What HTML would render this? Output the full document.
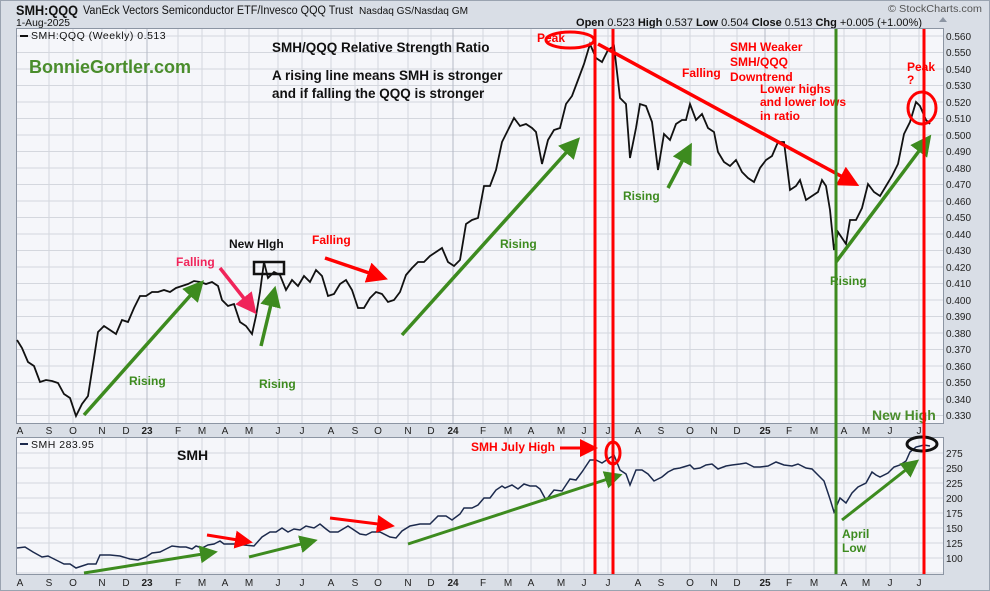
<!DOCTYPE html>
<html><head><meta charset="utf-8"><style>
html,body{margin:0;padding:0;background:#d9dee6;}
svg{display:block;font-family:"Liberation Sans",sans-serif;}
</style></head><body>
<svg width="990" height="591" viewBox="0 0 990 591" xmlns="http://www.w3.org/2000/svg">
<defs>
<marker id="ag" markerWidth="6" markerHeight="6" refX="3" refY="3" orient="auto" markerUnits="strokeWidth"><path d="M0,0 L6,3 L0,6 z" fill="#3d8b1f"/></marker>
<marker id="ar" markerWidth="6" markerHeight="6" refX="3" refY="3" orient="auto" markerUnits="strokeWidth"><path d="M0,0 L6,3 L0,6 z" fill="#f00"/></marker>
<marker id="ap" markerWidth="6" markerHeight="6" refX="3" refY="3" orient="auto" markerUnits="strokeWidth"><path d="M0,0 L6,3 L0,6 z" fill="#f0245a"/></marker>
</defs>
<rect x="0" y="0" width="990" height="591" fill="#d9dee6"/>
<rect x="0.5" y="0.5" width="989" height="590" fill="none" stroke="#9aa3b0"/>
<text x="16" y="15" font-size="14" font-weight="bold" fill="#111" textLength="62" lengthAdjust="spacingAndGlyphs">SMH:QQQ</text>
<text x="83" y="14" font-size="11.5" fill="#111" textLength="270" lengthAdjust="spacingAndGlyphs">VanEck Vectors Semiconductor ETF/Invesco QQQ Trust</text>
<text x="359" y="14" font-size="10" fill="#111" textLength="109" lengthAdjust="spacingAndGlyphs">Nasdaq GS/Nasdaq GM</text>
<text x="16" y="26" font-size="10" fill="#111" textLength="54" lengthAdjust="spacingAndGlyphs">1-Aug-2025</text>
<text x="888" y="12" font-size="10" fill="#555" textLength="94" lengthAdjust="spacingAndGlyphs">© StockCharts.com</text>
<text x="576" y="26" font-size="11" fill="#111" textLength="346" lengthAdjust="spacingAndGlyphs"><tspan font-weight="bold">Open</tspan> 0.523 <tspan font-weight="bold">High</tspan> 0.537 <tspan font-weight="bold">Low</tspan> 0.504 <tspan font-weight="bold">Close</tspan> 0.513 <tspan font-weight="bold">Chg</tspan> +0.005 (+1.00%)</text>
<path d="M939,22l4,-5l4,5z" fill="#8c95a3"/>
<!-- top panel -->
<rect x="16.5" y="28.5" width="927" height="395" fill="#f5f6fa" stroke="#8c95a3"/>
<g stroke="#d4d7de" stroke-width="1">
<path d="M17,36H943M17,52.5H943M17,69H943M17,85.5H943M17,102H943M17,118.5H943M17,135H943M17,151.5H943M17,168H943M17,184.5H943M17,201H943M17,217.5H943M17,234H943M17,250.5H943M17,267H943M17,283.5H943M17,300H943M17,316.5H943M17,333H943M17,349.5H943M17,366H943M17,382.5H943M17,399H943M17,415.5H943"/>
<path d="M49,29V423M73,29V423M102,29V423M126,29V423M178,29V423M202,29V423M225,29V423M249,29V423M278,29V423M302,29V423M331,29V423M355,29V423M378,29V423M408,29V423M431,29V423M483,29V423M508,29V423M531,29V423M561,29V423M584,29V423M608,29V423M638,29V423M661,29V423M690,29V423M714,29V423M737,29V423M789,29V423M814,29V423M844,29V423M866,29V423M890,29V423M919,29V423"/>
</g>
<g stroke="#b5bac5"><path d="M147,29V423M453,29V423M765,29V423"/></g>
<g font-size="10" fill="#222">
<text x="946" y="40">0.560</text><text x="946" y="56">0.550</text><text x="946" y="73">0.540</text><text x="946" y="89">0.530</text><text x="946" y="106">0.520</text><text x="946" y="122">0.510</text><text x="946" y="139">0.500</text><text x="946" y="155">0.490</text><text x="946" y="172">0.480</text><text x="946" y="188">0.470</text><text x="946" y="205">0.460</text><text x="946" y="221">0.450</text><text x="946" y="238">0.440</text><text x="946" y="254">0.430</text><text x="946" y="271">0.420</text><text x="946" y="287">0.410</text><text x="946" y="304">0.400</text><text x="946" y="320">0.390</text><text x="946" y="337">0.380</text><text x="946" y="353">0.370</text><text x="946" y="370">0.360</text><text x="946" y="386">0.350</text><text x="946" y="403">0.340</text><text x="946" y="419">0.330</text>
</g>
<path d="M20,36H28" stroke="#111" stroke-width="2"/>
<text x="31" y="39" font-size="10.5" fill="#111" letter-spacing="0.5">SMH:QQQ (Weekly) 0.513</text>
<text x="29" y="73" font-size="18" font-weight="bold" fill="#4a8d2c">BonnieGortler.com</text>
<text x="272" y="52" font-size="13.5" font-weight="bold" fill="#111">SMH/QQQ Relative Strength Ratio</text>
<text x="272" y="80" font-size="13.5" font-weight="bold" fill="#111">A rising line means SMH is stronger</text>
<text x="272" y="98" font-size="13.5" font-weight="bold" fill="#111">and if falling the QQQ is stronger</text>
<polyline fill="none" stroke="#111" stroke-width="1.8" points="17,340 22,348 28,362 34,366 40,382 46,380 52,381 58,383 64,394 70,398 76,416 82,404 88,396 94,358 98,332 104,326 110,330 116,334 122,320 128,322 134,308 140,296 146,296 152,292 158,292 164,290 170,292 176,288 182,286 188,284 194,281 200,282 206,284 212,282 218,286 222,300 228,306 234,304 240,322 246,326 252,334 256,316 260,292 264,262 268,278 274,272 280,275 286,290 292,280 298,286 304,276 310,282 316,270 322,276 328,296 334,294 340,284 346,280 352,290 358,308 364,308 370,298 376,292 382,294 388,302 394,300 400,292 406,275 412,268 418,262 424,262 430,256 436,252 442,248 448,262 454,266 460,260 466,224 472,220 478,218 484,186 490,186 496,170 502,142 508,130 514,118 520,126 526,124 532,128 536,132 542,164 548,140 554,130 560,128 566,104 572,96 578,80 584,64 590,44 596,58 602,62 608,50 614,46 620,98 626,104 630,158 636,128 640,104 646,106 652,122 658,170 664,134 670,140 676,124 682,120 686,120 690,104 696,120 702,114 708,128 714,132 718,152 724,162 730,166 736,160 742,172 748,178 754,182 760,168 766,160 772,156 778,142 784,142 790,190 796,186 800,180 806,200 812,196 818,192 822,180 826,186 830,210 834,250 838,232 842,238 846,244 850,220 856,220 862,208 868,184 874,192 880,196 886,186 892,176 898,164 904,134 910,122 916,102 920,106 926,120 930,124"/>
<!-- annotations top -->
<g stroke-width="3.5" fill="none">
<line x1="84" y1="415" x2="197" y2="288" stroke="#3d8b1f" marker-end="url(#ag)"/>
<line x1="261" y1="346" x2="273" y2="296" stroke="#3d8b1f" marker-end="url(#ag)"/>
<line x1="402" y1="335" x2="573" y2="145" stroke="#3d8b1f" marker-end="url(#ag)"/>
<line x1="668" y1="188" x2="687" y2="152" stroke="#3d8b1f" marker-end="url(#ag)"/>
<line x1="836" y1="262" x2="925" y2="143" stroke="#3d8b1f" marker-end="url(#ag)"/>
<line x1="220" y1="268" x2="250" y2="306" stroke="#f0245a" marker-end="url(#ap)"/>
<line x1="325" y1="258" x2="378" y2="276" stroke="#f00" marker-end="url(#ar)"/>
<line x1="598" y1="44" x2="850" y2="181" stroke="#f00" marker-end="url(#ar)"/>
<rect x="254" y="262" width="30" height="12" stroke="#111" stroke-width="2.5"/>
<ellipse cx="570" cy="40" rx="24" ry="8" stroke="#f00" stroke-width="3"/>
<ellipse cx="922" cy="108" rx="14" ry="16" stroke="#f00" stroke-width="3"/>
</g>
<g font-size="12" font-weight="bold">
<text x="129" y="385" fill="#3d8b1f">Rising</text>
<text x="259" y="388" fill="#3d8b1f">Rising</text>
<text x="500" y="248" fill="#3d8b1f">Rising</text>
<text x="623" y="200" fill="#3d8b1f">Rising</text>
<text x="830" y="285" fill="#3d8b1f">Rising</text>
<text x="176" y="266" fill="#f0245a">Falling</text>
<text x="229" y="248" fill="#111">New HIgh</text>
<text x="312" y="244" fill="#f00">Falling</text>
<text x="537" y="42" fill="#f00">Peak</text>
<text x="682" y="77" fill="#f00">Falling</text>
<text x="730" y="51" fill="#f00">SMH Weaker</text>
<text x="730" y="66" fill="#f00">SMH/QQQ</text>
<text x="730" y="81" fill="#f00">Downtrend</text>
<text x="760" y="93" fill="#f00">Lower highs</text>
<text x="760" y="106" fill="#f00">and lower lows</text>
<text x="760" y="120" fill="#f00">in ratio</text>
<text x="907" y="71" fill="#f00">Peak</text>
<text x="907" y="84" fill="#f00">?</text>
</g>
<text x="872" y="420" font-size="14" font-weight="bold" fill="#4a8d2c">New High</text>
<!-- month labels -->
<g font-size="10" fill="#222" text-anchor="middle" id="months">
<text x="20" y="434">A</text><text x="49" y="434">S</text><text x="73" y="434">O</text><text x="102" y="434">N</text><text x="126" y="434">D</text><text x="147" y="434" font-weight="bold">23</text><text x="178" y="434">F</text><text x="202" y="434">M</text><text x="225" y="434">A</text><text x="249" y="434">M</text><text x="278" y="434">J</text><text x="302" y="434">J</text><text x="331" y="434">A</text><text x="355" y="434">S</text><text x="378" y="434">O</text><text x="408" y="434">N</text><text x="431" y="434">D</text><text x="453" y="434" font-weight="bold">24</text><text x="483" y="434">F</text><text x="508" y="434">M</text><text x="531" y="434">A</text><text x="561" y="434">M</text><text x="584" y="434">J</text><text x="608" y="434">J</text><text x="638" y="434">A</text><text x="661" y="434">S</text><text x="690" y="434">O</text><text x="714" y="434">N</text><text x="737" y="434">D</text><text x="765" y="434" font-weight="bold">25</text><text x="789" y="434">F</text><text x="814" y="434">M</text><text x="844" y="434">A</text><text x="866" y="434">M</text><text x="890" y="434">J</text><text x="919" y="434">J</text>
</g>
<use href="#months" y="152"/>
<!-- bottom panel -->
<rect x="16.5" y="437.5" width="927" height="137" fill="#f5f6fa" stroke="#8c95a3"/>
<g stroke="#d4d7de">
<path d="M17,453H943M17,468H943M17,483H943M17,498H943M17,513H943M17,528H943M17,543H943M17,558H943M17,573H943"/>
<path d="M49,438V574M73,438V574M102,438V574M126,438V574M178,438V574M202,438V574M225,438V574M249,438V574M278,438V574M302,438V574M331,438V574M355,438V574M378,438V574M408,438V574M431,438V574M483,438V574M508,438V574M531,438V574M561,438V574M584,438V574M608,438V574M638,438V574M661,438V574M690,438V574M714,438V574M737,438V574M789,438V574M814,438V574M844,438V574M866,438V574M890,438V574M919,438V574"/>
</g>
<g stroke="#b5bac5"><path d="M147,438V574M453,438V574M765,438V574"/></g>
<g font-size="10" fill="#222">
<text x="946" y="457">275</text><text x="946" y="472">250</text><text x="946" y="487">225</text><text x="946" y="502">200</text><text x="946" y="517">175</text><text x="946" y="532">150</text><text x="946" y="547">125</text><text x="946" y="562">100</text>
</g>
<path d="M20,444H28" stroke="#1c2a4d" stroke-width="2"/>
<text x="31" y="448" font-size="10.5" fill="#111" letter-spacing="0.5">SMH 283.95</text>
<text x="177" y="460" font-size="14" font-weight="bold" fill="#111">SMH</text>
<polyline fill="none" stroke="#1c2a4d" stroke-width="1.5" points="17,548 25,547 33,552 42,557 48,556 58,561 64,564 70,564 76,568 82,566 88,564 96,564 100,555 110,555 120,556 130,559 138,560 146,557 152,553 160,552 166,549 172,546 180,547 186,547 192,549 196,546 202,548 208,545 214,544 220,541 224,544 236,544 244,545 254,546 262,537 270,532 276,532 282,528 288,532 294,529 300,530 306,526 314,528 320,524 326,529 330,532 338,532 348,526 360,534 366,535 372,532 380,532 390,537 396,538 402,531 410,526 420,524 430,524 438,516 446,516 452,520 460,514 464,508 472,508 478,505 484,498 490,498 496,490 502,486 505,488 512,485 518,489 524,484 530,486 536,486 540,489 546,500 554,490 562,491 570,479 576,480 582,472 590,460 596,460 602,463 608,459 614,455 620,470 626,474 630,485 636,470 642,470 648,474 654,481 662,477 668,472 674,469 680,468 690,465 694,469 700,468 706,465 712,464 718,469 726,466 732,465 740,464 746,463 754,467 760,467 768,466 776,462 784,465 792,466 798,464 806,468 812,469 818,475 824,481 830,499 834,512 840,498 846,503 852,493 858,487 866,483 872,472 876,475 880,477 888,473 894,467 900,465 906,461 910,452 916,447 924,445 930,446"/>
<g stroke-width="3" fill="none">
<line x1="84" y1="573" x2="209" y2="553" stroke="#3d8b1f" marker-end="url(#ag)"/>
<line x1="249" y1="557" x2="309" y2="542" stroke="#3d8b1f" marker-end="url(#ag)"/>
<line x1="408" y1="544" x2="614" y2="477" stroke="#3d8b1f" marker-end="url(#ag)"/>
<line x1="842" y1="520" x2="912" y2="465" stroke="#3d8b1f" marker-end="url(#ag)"/>
<line x1="207" y1="535" x2="244" y2="541" stroke="#f00" marker-end="url(#ar)"/>
<line x1="330" y1="518" x2="386" y2="525" stroke="#f00" marker-end="url(#ar)"/>
<line x1="560" y1="448" x2="589" y2="448" stroke="#f00" marker-end="url(#ar)"/>
<ellipse cx="613" cy="453" rx="7" ry="11" stroke="#f00" stroke-width="3"/>
<ellipse cx="922" cy="444" rx="15" ry="7" stroke="#111" stroke-width="3"/>
</g>
<g font-size="12" font-weight="bold">
<text x="471" y="451" fill="#f00">SMH July High</text>
<text x="842" y="538" fill="#3d8b1f">April</text>
<text x="842" y="552" fill="#3d8b1f">Low</text>
</g>
<!-- vertical lines -->
<g stroke-width="3">
<line x1="595" y1="29" x2="595" y2="574" stroke="#f00"/>
<line x1="613" y1="29" x2="613" y2="574" stroke="#f00"/>
<line x1="836" y1="29" x2="836" y2="574" stroke="#3d8b1f"/>
<line x1="924" y1="29" x2="924" y2="574" stroke="#f00"/>
</g>
</svg>
</body></html>
